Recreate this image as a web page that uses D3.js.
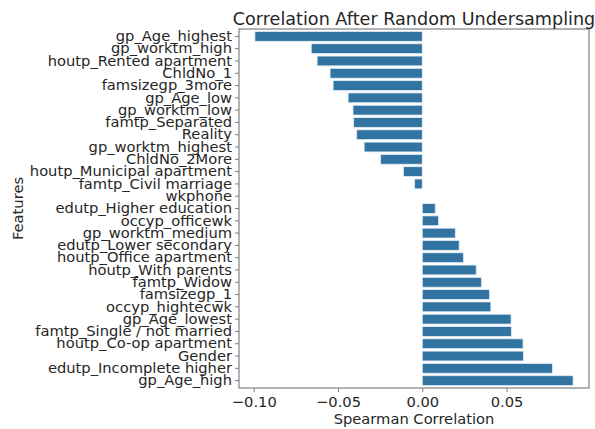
<!DOCTYPE html>
<html>
<head>
<meta charset="utf-8">
<script src="https://cdn.jsdelivr.net/npm/d3@7"></script>
<style>
  body { margin: 0; background: white; }
  text { font-family: "DejaVu Sans", sans-serif; }
</style>
</head>
<body>
<div id="chart"></div>
<script>
// merkmale und korrelationswerte (von oben nach unten)
let features = ["gp_Age_highest", "gp_worktm_high", "houtp_Rented apartment", "ChldNo_1",
    "famsizegp_3more", "gp_Age_low", "gp_worktm_low", "famtp_Separated", "Reality",
    "gp_worktm_highest", "ChldNo_2More", "houtp_Municipal apartment", "famtp_Civil marriage",
    "wkphone", "edutp_Higher education", "occyp_officewk", "gp_worktm_medium",
    "edutp_Lower secondary", "houtp_Office apartment", "houtp_With parents", "famtp_Widow",
    "famsizegp_1", "occyp_hightecwk", "gp_Age_lowest", "famtp_Single / not married",
    "houtp_Co-op apartment", "Gender", "edutp_Incomplete higher", "gp_Age_high"];
let correlations = [-0.0993, -0.0659, -0.0624, -0.0547, -0.0529, -0.0440, -0.0411, -0.0407,
    -0.0389, -0.0345, -0.0247, -0.0112, -0.0045, 0.0, 0.0077, 0.0097, 0.0196, 0.0219,
    0.0245, 0.0320, 0.0352, 0.0399, 0.0407, 0.0527, 0.0529, 0.0598, 0.0600, 0.0772, 0.0895];
let xTicks = [-0.10, -0.05, 0.00, 0.05];

let liste = features.map((key, i) => ({ key, val: correlations[i] }));

var margin = { top: 29, right: 6, bottom: 41, left: 239 },
    width = 595 - margin.left - margin.right,
    height = 429 - margin.top - margin.bottom;

let svg = d3.select("#chart").append("svg")
    .attr("width", 595)
    .attr("height", 429)
    .append("g")
    .attr("transform", "translate(" + margin.left + "," + margin.top + ")");

// matplotlib-artiger rand von 5%
let lo = d3.min(liste, d => d.val), hi = d3.max(liste, d => d.val);
let pad = (hi - lo) * 0.05;
var x = d3.scaleLinear().domain([lo - pad, hi + pad]).range([0, width]);
var y = d3.scaleBand().domain(features).range([0, height]).padding(0.2);

svg.selectAll(".bar").data(liste)
    .enter().append("rect")
    .attr("class", "bar")
    .attr("x", d => x(Math.min(0, d.val)))
    .attr("y", d => y(d.key))
    .attr("width", d => Math.abs(x(d.val) - x(0)))
    .attr("height", y.bandwidth())
    .style("fill", "#3274a1")
    .style("stroke", d => d.val == 0 ? "none" : "#e3edf5")
    .style("stroke-width", 0.8);

// x achse
let xAxis = svg.append("g")
    .attr("transform", "translate(0," + height + ")")
    .call(d3.axisBottom(x).tickValues(xTicks).tickFormat(d3.format(".2f")).tickSize(4).tickSizeOuter(0));
xAxis.selectAll("text").attr("font-size", "14.7px").attr("fill", "#262626")
    .attr("dy", "0.85em").text(d => d3.format(".2f")(d).replace("-", "\u2212"));

// y achse
let yAxis = svg.append("g")
    .call(d3.axisLeft(y).tickSize(4).tickSizeOuter(0));
yAxis.selectAll("text").attr("font-size", "14.7px").attr("fill", "#262626").attr("x", -7);

svg.selectAll(".domain").remove();
svg.selectAll(".tick line").attr("stroke", "#808080");

// rahmen
svg.append("rect")
    .attr("width", width).attr("height", height)
    .attr("fill", "none").attr("stroke", "#808080").attr("stroke-width", 1.2);

svg.append("text")
    .attr("x", width / 2).attr("y", -4)
    .attr("text-anchor", "middle")
    .attr("font-size", "17.6px").attr("fill", "#262626")
    .text("Correlation After Random Undersampling");

svg.append("text")
    .attr("x", width / 2).attr("y", height + 36)
    .attr("text-anchor", "middle")
    .attr("font-size", "14.7px").attr("fill", "#262626")
    .text("Spearman Correlation");

svg.append("text")
    .attr("transform", "rotate(-90)")
    .attr("x", -height / 2).attr("y", -216)
    .attr("text-anchor", "middle")
    .attr("font-size", "14.7px").attr("fill", "#262626")
    .text("Features");
</script>
</body>
</html>
